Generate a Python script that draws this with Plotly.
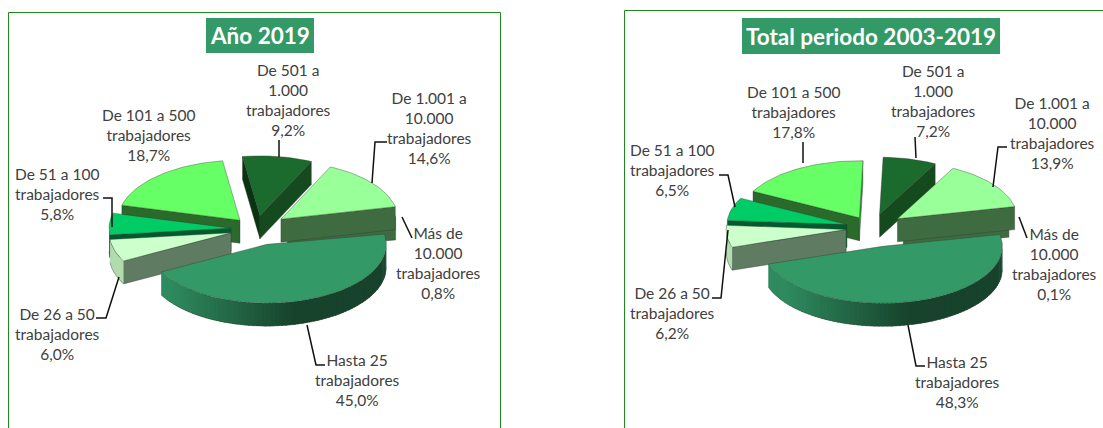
import math
import plotly.graph_objects as go

# ---------- data ----------
categories = [
    "Hasta 25<br>trabajadores",
    "De 26 a 50<br>trabajadores",
    "De 51 a 100<br>trabajadores",
    "De 101 a 500<br>trabajadores",
    "De 501 a<br>1.000<br>trabajadores",
    "De 1.001 a<br>10.000<br>trabajadores",
    "Más de<br>10.000<br>trabajadores",
]
values_2019 = [45.0, 6.0, 5.8, 18.7, 9.2, 14.6, 0.8]
values_total = [48.3, 6.2, 6.5, 17.8, 7.2, 13.9, 0.1]
title_2019 = "Año 2019"
title_total = "Total periodo 2003-2019"

# ---------- styling per category ----------
top_colors = ["#339966", "#CCFFCC", "#00CC66", "#66FF66", "#1B6B2F", "#99FF99", "#99FF99"]
start_face = ["#2E8B5F", "#5F7C62", "#005C2E", "#2A6A2A", "#0A3312", "#3F6B40", "#3F6B40"]
end_face = ["#17422B", "#5F7C62", "#005C2E", "#2F9A3A", "#154A1F", "#3F6B40", "#3F6B40"]
rim_colors = [None, "#B0DCAE", "#0A5A30", "#2A6A2A", "#0A3312", "#3F6B40", "#3F6B40"]
draw_order = [4, 6, 5, 3, 2, 1, 0]

charts = [
    dict(values=values_2019, title=title_2019, cx=256, cy=229, rx=122, ry=60, depth=23, start=-10,
         pull=[33, 26, 25, 24, 27, 32, 32], scale=[0.98, 1, 1, 1, 1, 0.96, 0.9],
         box=(206, 18, 314, 53), title_x=260,
         frame=[(8.5, 428), (8.5, 12.5), (500.5, 12.5), (500.5, 428)],
         labels=[(357, 380), (57, 334), (57, 194), (148, 135), (288, 100), (429, 128), (438, 263)],
         leaders=[
             [(307, 325), (316, 365), (325, 365)],
             [(119, 277), (106, 318), (96, 318)],
             [(103, 198), (112, 198), (112, 227)],
             [(279, 140), (279, 157)],
             [(387, 142), (375, 142), (372, 183)],
             [(402, 217), (412, 238)],
         ]),
    dict(values=values_total, title=title_total, cx=872, cy=228, rx=120, ry=57, depth=23, start=-12,
         pull=[40, 26, 26, 25, 30, 32, 32], scale=[1, 1, 1, 1, 1, 1, 0.9],
         box=(742, 18, 1000, 54), title_x=871,
         frame=[(624.5, 428), (624.5, 10.5), (1103, 10.5)],
         labels=[(957, 382), (672, 313), (672, 170), (793, 112), (933, 101), (1052, 133), (1054, 264)],
         leaders=[
             [(908, 325), (916, 366), (925, 366)],
             [(728, 230), (721, 298), (712, 298)],
             [(719, 175), (728, 175), (735, 207)],
             [(803, 142), (803, 163)],
             [(915, 137), (916, 158)],
             [(1007, 147), (998, 147), (993, 187)],
             [(1019, 217), (1027, 238)],
         ]),
]

EDGE = "rgba(50,60,50,0.65)"
FONT = "Lato, 'Open Sans', sans-serif"
TEXT = "#404040"
fig = go.Figure()


def poly(pts, fill, line=None, width=0.6):
    xs = [p[0] for p in pts] + [pts[0][0]]
    ys = [p[1] for p in pts] + [pts[0][1]]
    fig.add_trace(go.Scatter(x=xs, y=ys, mode="lines", fill="toself", fillcolor=fill,
                             line=dict(color=line or fill, width=width),
                             hoverinfo="skip", showlegend=False))


def mix(a, b, t):
    ca = [int(a[i:i + 2], 16) for i in (1, 3, 5)]
    cb = [int(b[i:i + 2], 16) for i in (1, 3, 5)]
    return "#%02x%02x%02x" % tuple(round(u + (v - u) * t) for u, v in zip(ca, cb))


def draw_pie(c):
    total = 0.0
    spans = []
    for v in c["values"]:
        spans.append((c["start"] + total * 3.6, c["start"] + (total + v) * 3.6))
        total += v
    k = c["ry"] / c["rx"]
    for i in draw_order:
        a0, a1 = spans[i]
        mid = math.radians((a0 + a1) / 2)
        ax = c["cx"] + c["pull"][i] * math.cos(mid)
        ay = c["cy"] + c["pull"][i] * k * math.sin(mid)
        size = c["scale"][i]

        def rim(a):
            r = math.radians(a)
            return ax + size * c["rx"] * math.cos(r), ay + size * c["ry"] * math.sin(r)

        d = c["depth"]
        s, e = rim(a0), rim(a1)
        down = lambda p: (p[0], p[1] + d)
        # radial side faces
        if math.cos(math.radians(a0)) < 0:
            poly([(ax, ay), s, down(s), (ax, ay + d)], start_face[i], EDGE)
        if math.cos(math.radians(a1)) > 0:
            poly([(ax, ay), e, down(e), (ax, ay + d)], end_face[i], EDGE)
        # outer rim, only the front half of the ellipse shows
        lo, hi = max(a0, 0), min(a1, 180)
        if hi > lo:
            steps = max(2, int((hi - lo) / 2))
            span = (hi - lo) / steps
            # painted from right to left, each band overlapping the previous one
            for j in range(steps):
                b0 = lo + span * j
                b1 = min(hi, b0 + span * 1.6)
                if rim_colors[i] is None:
                    cosm = math.cos(math.radians(b0))
                    t = min(1, max(0, (0.25 - cosm) / 1.05))
                    col = mix("#17422B", "#2E8B5F", t)
                else:
                    col = rim_colors[i]
                p0, p1 = rim(b0), rim(b1)
                poly([p0, p1, down(p1), down(p0)], col, col, 0)
            arc = [rim(lo + (hi - lo) * j / 40) for j in range(41)]
            fig.add_trace(go.Scatter(x=[p[0] for p in arc], y=[p[1] + d for p in arc], mode="lines",
                                     line=dict(color=EDGE, width=0.6),
                                     hoverinfo="skip", showlegend=False))
        # top face
        steps = max(3, int((a1 - a0) / 2))
        top = [(ax, ay)] + [rim(a0 + (a1 - a0) * j / steps) for j in range(steps + 1)]
        poly(top, top_colors[i], EDGE)


shapes = []
annotations = []
for c in charts:
    draw_pie(c)
    fig.add_trace(go.Scatter(x=[p[0] for p in c["frame"]], y=[p[1] for p in c["frame"]], mode="lines",
                             line=dict(color="#1E8A1E", width=1), hoverinfo="skip", showlegend=False))
    for path in c["leaders"]:
        fig.add_trace(go.Scatter(x=[p[0] for p in path], y=[p[1] for p in path], mode="lines",
                                 line=dict(color="#111111", width=1.5), hoverinfo="skip", showlegend=False))
    x0, y0, x1, y1 = c["box"]
    shapes.append(dict(type="rect", xref="x", yref="y", x0=x0, y0=y0, x1=x1, y1=y1,
                       fillcolor="#339966", line=dict(width=0), layer="below"))
    annotations.append(dict(x=c["title_x"], y=(y0 + y1) / 2, xref="x", yref="y", text=f"<b>{c['title']}</b>",
                            showarrow=False, font=dict(family=FONT, size=22.5, color="white")))
    for name, v, (lx, ly) in zip(categories, c["values"], c["labels"]):
        pct = f"{v:.1f}".replace(".", ",") + "%"
        annotations.append(dict(x=lx, y=ly, xref="x", yref="y", showarrow=False, align="center",
                                text=f"{name}<br>{pct}",
                                font=dict(family=FONT, size=15.5, color=TEXT)))

fig.update_layout(
    width=1103, height=428, margin=dict(l=0, r=0, t=0, b=0),
    paper_bgcolor="white", plot_bgcolor="white",
    xaxis=dict(range=[0, 1103], visible=False, fixedrange=True),
    yaxis=dict(range=[428, 0], visible=False, fixedrange=True),
    shapes=shapes, annotations=annotations, showlegend=False,
)
fig.write_html("out.html", config=dict(displayModeBar=False),
               post_script="document.body.style.margin='0';document.body.style.overflow='hidden';")
